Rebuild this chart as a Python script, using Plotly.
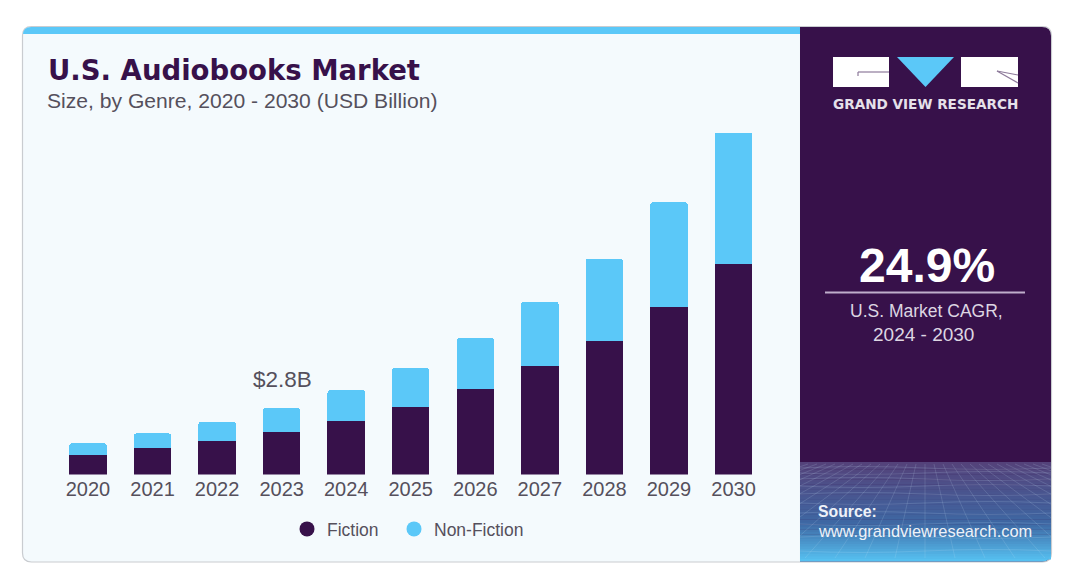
import plotly.graph_objects as go

W, H = 1080, 584

years = ["2020", "2021", "2022", "2023", "2024", "2025", "2026", "2027", "2028", "2029", "2030"]
fiction = [0.84, 1.12, 1.43, 1.79, 2.25, 2.86, 3.60, 4.55, 5.64, 7.07, 8.86]
non_fiction = [0.48, 0.61, 0.80, 1.01, 1.31, 1.62, 2.15, 2.72, 3.45, 4.40, 5.54]

PURPLE = "#37114a"
BLUE = "#5bc8f8"
TEXT = "#55505c"
PANEL = "#f4fafd"


def px(x):
    return x / W


def py(y):
    return 1 - y / H


def pt(x, y):
    return f"{px(x):.5f},{py(y):.5f}"


def poly(points):
    return "M " + " L ".join(pt(x, y) for x, y in points) + " Z"


def rounded(x0, y0, x1, y1, tl=0, tr=0, br=0, bl=0):
    d = f"M {pt(x0 + tl, y0)} L {pt(x1 - tr, y0)} "
    if tr:
        d += f"Q {pt(x1, y0)} {pt(x1, y0 + tr)} "
    d += f"L {pt(x1, y1 - br)} "
    if br:
        d += f"Q {pt(x1, y1)} {pt(x1 - br, y1)} "
    d += f"L {pt(x0 + bl, y1)} "
    if bl:
        d += f"Q {pt(x0, y1)} {pt(x0, y1 - bl)} "
    d += f"L {pt(x0, y0 + tl)} "
    if tl:
        d += f"Q {pt(x0, y0)} {pt(x0 + tl, y0)} "
    return d + "Z"


def path_shape(path, fill, line=None, width=0, layer="below"):
    return dict(type="path", xref="paper", yref="paper", path=path, fillcolor=fill,
                line=dict(color=line or "rgba(0,0,0,0)", width=width), layer=layer)


def line_shape(x0, y0, x1, y1, color, width=1, layer="below"):
    return dict(type="line", xref="paper", yref="paper", x0=px(x0), y0=py(y0), x1=px(x1), y1=py(y1),
                line=dict(color=color, width=width), layer=layer)


def text(x, y, s, size, color, bold=False, anchor="left", family="Liberation Sans"):
    return dict(xref="paper", yref="paper", x=px(x), y=py(y), text=f"<b>{s}</b>" if bold else s,
                showarrow=False, xanchor=anchor, yanchor="middle",
                font=dict(size=size, color=color, family=family))


def lerp(a, b, t):
    return tuple(round(a[i] + (b[i] - a[i]) * t) for i in range(3))


shapes = [
    path_shape(rounded(22.5, 26.5, 1051.5, 562, 9, 9, 9, 9), PANEL, "#c9ccd0", 1.2),
    path_shape(rounded(23, 27, 800, 34, 8, 0, 0, 0), BLUE),
    path_shape(rounded(800, 27, 1051, 561.5, 0, 9, 9, 0), PURPLE),
]

# gradient strip at the foot of the dark panel
top_c, mid_c, bot_c = (84, 66, 122), (62, 104, 164), (86, 192, 240)
g_top, g_bot, steps = 462, 561.5, 40
for i in range(steps):
    y0 = g_top + (g_bot - g_top) * i / steps
    y1 = g_top + (g_bot - g_top) * (i + 1) / steps + 0.4
    t = i / (steps - 1)
    c = lerp(top_c, mid_c, t / 0.62) if t < 0.62 else lerp(mid_c, bot_c, (t - 0.62) / 0.38)
    br = 9 if i == steps - 1 else 0
    shapes.append(path_shape(rounded(800, y0, 1051, min(y1, g_bot), 0, 0, br, 0), f"rgb{c}"))

# perspective mesh, kept inside the panel
MESH = "rgba(205,230,250,0.2)"
L, R, T, B = 800, 1051, 464, 558
for k, y in enumerate([468, 473, 479, 486, 494, 503, 513, 524, 537, 551]):
    bend = 3 if k % 2 else -3
    d = f"M {pt(L, y)} Q {pt(860, y + bend)} {pt(925, y)} Q {pt(990, y - bend)} {pt(R, y)}"
    shapes.append(dict(type="path", xref="paper", yref="paper", path=d,
                       line=dict(color=MESH, width=0.8), layer="below"))
for i in range(-14, 15):
    xa, xb = 925 + i * 9, 925 + i * 30
    ya, yb = T, B
    if xb < L:
        yb = T + (B - T) * (L - xa) / (xb - xa)
        xb = L
    elif xb > R:
        yb = T + (B - T) * (R - xa) / (xb - xa)
        xb = R
    if L <= xa <= R:
        shapes.append(line_shape(xa, ya, xb, yb, MESH, 0.8))

# logo
shapes += [
    path_shape(poly([(833, 57), (889, 57), (889, 87), (833, 87)]), "#ffffff"),
    path_shape(poly([(897, 57), (954, 57), (925.5, 87)]), BLUE),
    path_shape(poly([(961, 57), (1018, 57), (1018, 87), (961, 87)]), "#ffffff"),
    line_shape(889, 72, 858, 72, "#8d7a9a", 1.2, "above"),
    line_shape(858, 72, 858, 76, "#8d7a9a", 1.2, "above"),
    line_shape(997, 71, 1018, 83, "#8d7a9a", 1.2, "above"),
    line_shape(997, 71, 1018, 75, "#8d7a9a", 1.2, "above"),
    line_shape(825, 292.5, 1025, 292.5, "#bfaecb", 1.8),
]

annotations = [
    text(45.5, 70, "U.S. Audiobooks Market", 27.5, PURPLE, bold=True, family="DejaVu Sans"),
    text(45, 101, "Size, by Genre, 2020 - 2030 (USD Billion)", 21.1, TEXT),
    text(282, 379, "$2.8B", 22.5, TEXT, anchor="center"),
    text(925.5, 104, "GRAND VIEW RESEARCH", 13.6, "#e6e1ea", bold=True, anchor="center", family="DejaVu Sans"),
    text(927, 265, "24.9%", 48, "#ffffff", bold=True, anchor="center"),
    text(926, 311, "U.S. Market CAGR,", 17.5, "#ddd6e2", anchor="center"),
    text(923, 334, "2024 - 2030", 19, "#ddd6e2", anchor="center"),
    text(816, 511, "Source:", 15.8, "#eef2f8", bold=True),
    text(816, 531, "www.grandviewresearch.com", 16.4, "#eef2f8"),
]

fig = go.Figure()
fig.add_bar(x=years, y=fiction, name="Fiction", marker=dict(color=PURPLE, line_width=0), showlegend=False)
fig.add_bar(x=years, y=non_fiction, name="Non-Fiction", marker=dict(color=BLUE, line_width=0), showlegend=False)
fig.add_scatter(x=[None], y=[None], mode="markers", name="Fiction", legend="legend",
                marker=dict(color=PURPLE, size=15, symbol="circle"))
fig.add_scatter(x=[None], y=[None], mode="markers", name="Non-Fiction", legend="legend2",
                marker=dict(color=BLUE, size=15, symbol="circle"))

legend_style = dict(orientation="h", y=py(529), xanchor="left", yanchor="middle",
                    bgcolor="rgba(0,0,0,0)", font=dict(size=17.5, color=TEXT), itemwidth=30)

fig.update_layout(
    width=W, height=H, margin=dict(l=0, r=0, t=0, b=0),
    paper_bgcolor="#ffffff", plot_bgcolor="rgba(0,0,0,0)",
    barmode="stack", bargap=0.42, barcornerradius=3,
    font=dict(family="Liberation Sans", color=TEXT),
    xaxis=dict(domain=[px(55.7), px(765.8)], type="category", showgrid=False, showline=False,
               ticks="", tickfont=dict(size=20, color=TEXT), anchor="y"),
    yaxis=dict(domain=[py(474.5), py(120)], range=[0, 14.93], visible=False, anchor="x"),
    legend=dict(x=px(287), **legend_style),
    legend2=dict(x=px(394), **legend_style),
    shapes=shapes, annotations=annotations,
)

fig.write_html("out.html", config={"displayModeBar": False},
               post_script="document.body.style.margin='0';document.documentElement.style.overflow='hidden';")
